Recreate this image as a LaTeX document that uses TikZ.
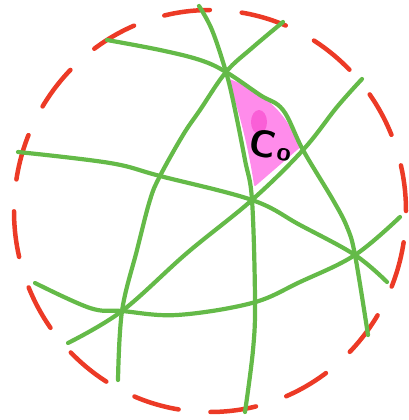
\documentclass[tikz,border=0pt]{standalone}
\usepackage{xcolor}
\definecolor{skred}{RGB}{236,58,38}
\definecolor{skgreen}{RGB}{100,186,72}
\definecolor{skpink}{RGB}{255,140,235}
\definecolor{skmagenta}{RGB}{250,95,215}
\usetikzlibrary{arrows.meta,calc}

\begin{document}
\begin{tikzpicture}[
  x=1pt, y=-1pt,
  rim/.style={draw=skred, line width=4.5pt, line cap=round,
              dash pattern=on 46pt off 32pt},
  gline/.style={draw=skgreen, line width=4.2pt, line cap=round, line join=round},
  cell/.style={fill=skpink, draw=skpink, line width=2pt, line join=round},
  lbl/.style={font=\fontsize{38}{38}\sffamily\bfseries, text=black, inner sep=0pt}
]
\useasboundingbox (0,0) rectangle (409,420);

% Crossing points
\coordinate (top)   at (226,72);
\coordinate (mid)   at (252,200);
\coordinate (left)  at (122,311);
\coordinate (right) at (355,255);
\coordinate (pA)    at (160,176);
\coordinate (pB)    at (303,150);

% Cell region
\fill[cell] (229,80) .. controls (262,92) and (285,112) .. (299,147)
  -- (255,185) .. controls (250,150) and (240,110) .. cycle;
\fill[skmagenta] (259,122) ellipse [x radius=8pt, y radius=12pt];

% Dashed circle
\draw[rim] (210,211) ellipse [x radius=196pt, y radius=201pt];

% Green lines
\draw[gline] plot[smooth, tension=0.6] coordinates
  {(199,6) (212,30) (top) (234,105) (245,160) (mid) (255,300) (253,350) (245,412)};
\draw[gline] plot[smooth, tension=0.6] coordinates
  {(283,22) (252,48) (top) (200,110) (183,135) (pA) (150,200) (137,250) (left) (118,380)};
\draw[gline] plot[smooth, tension=0.6] coordinates
  {(107,40) (160,50) (200,60) (top) (260,95) (283,110) (pB) (333,200) (347,227) (right) (368,335)};
\draw[gline] plot[smooth, tension=0.6] coordinates
  {(362,79) (337,107) (pB) (mid) (187,253) (left) (68,343)};
\draw[gline] plot[smooth, tension=0.6] coordinates
  {(18,152) (110,163) (pA) (mid) (300,225) (right) (387,282)};
\draw[gline] plot[smooth, tension=0.6] coordinates
  {(35,283) (90,308) (left) (177,315) (252,303) (300,282) (right) (400,217)};

% Label
\node[lbl, rotate=-10] (cname) at (271,145) {C\kern1.5pt{\fontsize{26}{26}\selectfont o}};
\end{tikzpicture}
\end{document}
